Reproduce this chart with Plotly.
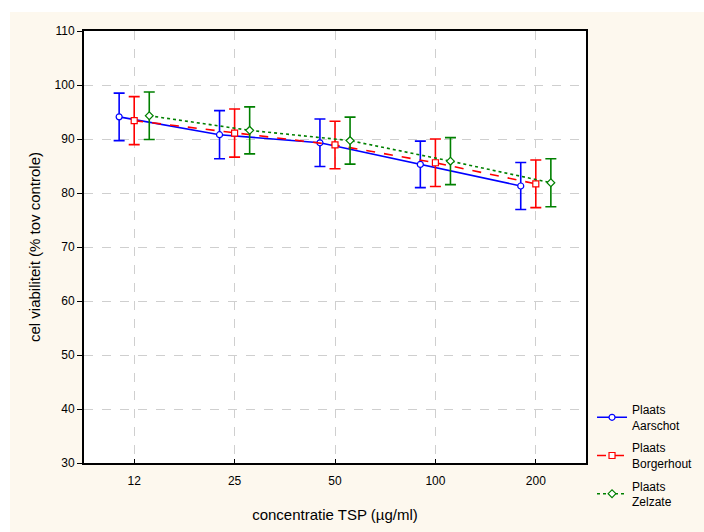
import plotly.graph_objects as go

categories = ["12", "25", "50", "100", "200"]
series_names = ["Plaats<br>Aarschot", "Plaats<br>Borgerhout", "Plaats<br>Zelzate"]
aarschot = [94.1, 90.8, 89.3, 85.3, 81.3]
aarschot_err = [4.4, 4.45, 4.4, 4.3, 4.35]
borgerhout = [93.4, 91.1, 88.9, 85.6, 81.7]
borgerhout_err = [4.45, 4.45, 4.4, 4.4, 4.4]
zelzate = [94.3, 91.6, 89.7, 85.9, 81.9]
zelzate_err = [4.4, 4.35, 4.35, 4.35, 4.45]
y_ticks = [30, 40, 50, 60, 70, 80, 90, 100, 110]

values = [aarschot, borgerhout, zelzate]
errors = [aarschot_err, borgerhout_err, zelzate_err]
colors = ["#0000ff", "#ff0000", "#008000"]
dashes = ["solid", "dash", "dot"]
symbols = ["circle", "square", "diamond"]
offsets = [-0.15, 0.0, 0.15]

fig = go.Figure()
for k, (name, v, e, c, d, s, off) in enumerate(zip(series_names, values, errors, colors, dashes, symbols, offsets)):
    xs = [i + off for i in range(len(categories))]
    fig.add_trace(go.Scatter(
        x=xs, y=v, name=name, mode="lines+markers", legendgroup=f"g{k}",
        line=dict(color=c, width=1.6, dash=d),
        marker=dict(symbol=s, size=6, color="#ffffff", line=dict(width=1.2, color=c)),
        error_y=dict(type="data", array=e, visible=True, color=c, thickness=1.6, width=5.5),
    ))

fig.add_shape(type="rect", xref="paper", yref="paper", x0=-0.1474, x1=1.27, y0=-0.19, y1=1.044,
              fillcolor="#fdf8ee", line=dict(width=0), layer="below")
fig.add_shape(type="rect", xref="paper", yref="paper", x0=0, x1=1, y0=0, y1=1,
              fillcolor="#ffffff", line=dict(width=0), layer="below")

font_family = "Liberation Sans, Arial, sans-serif"
fig.update_layout(
    width=704, height=532,
    margin=dict(l=84, r=118, t=31, b=69, autoexpand=False),
    paper_bgcolor="#ffffff", plot_bgcolor="#ffffff",
    font=dict(family=font_family, size=12, color="#000000"),
    showlegend=True,
    legend=dict(x=1.012, y=0.157, xanchor="left", yanchor="top",
                bgcolor="rgba(0,0,0,0)", font=dict(size=12), itemwidth=30,
                traceorder="grouped", tracegroupgap=4),
    xaxis=dict(
        range=[-0.5, 4.5], tickvals=list(range(len(categories))), ticktext=categories,
        ticks="inside", ticklen=4, tickcolor="#000000", tickwidth=1,
        ticklabelstandoff=6,
        showline=True, linecolor="#000000", linewidth=2, mirror=True,
        showgrid=True, gridcolor="#cfcfcf", gridwidth=1, griddash="dash",
        zeroline=False, automargin=False,
        title=dict(text="concentratie TSP (µg/ml)", font=dict(size=15), standoff=22),
    ),
    yaxis=dict(
        range=[30, 110], tickvals=y_ticks,
        ticks="outside", ticklen=5, tickcolor="#000000", tickwidth=1,
        showline=True, linecolor="#000000", linewidth=2, mirror=True,
        showgrid=True, gridcolor="#cfcfcf", gridwidth=1, griddash="dash",
        zeroline=False, automargin=False,
        title=dict(text="cel viabiliteit (% tov controle)", font=dict(size=15), standoff=10),
    ),
)

fig.write_html("out.html", config={"displayModeBar": False},
               post_script="document.body.style.margin='0';document.body.style.overflow='hidden';")
